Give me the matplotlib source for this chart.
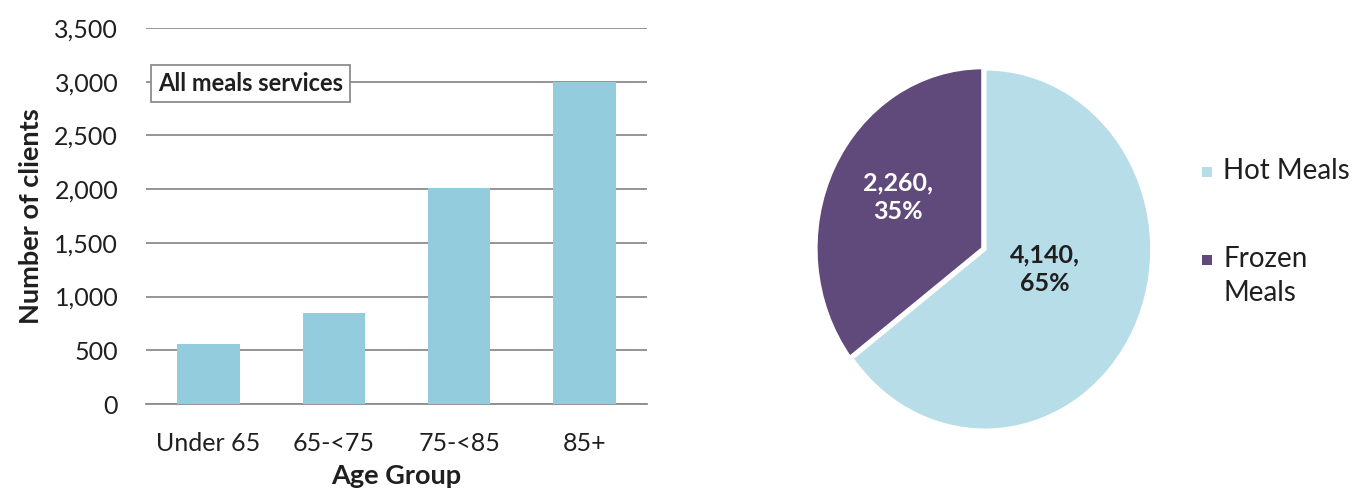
import matplotlib
matplotlib.use("Agg")
import matplotlib.pyplot as plt
from matplotlib.patches import Rectangle
import numpy as np

plt.rcParams['font.family'] = ['Lato', 'DejaVu Sans']

age_groups = ["Under 65", "65-<75", "75-<85", "85+"]
clients = [560, 850, 2010, 3000]

meal_types = ["Hot Meals", "Frozen\nMeals"]
meal_counts = [4140, 2260]

bar_color = "#93CDDD"
pie_colors = ["#B7DDE8", "#604A7B"]
txt = "#1f1f1f"

W, H = 1353, 491
fig = plt.figure(figsize=(W / 100, H / 100), dpi=100)

# ---- bar chart ----
ax = fig.add_axes([146 / W, (H - 404) / H, (647 - 146) / W, (404 - 28) / H])
x = np.arange(len(age_groups))
ax.bar(x, clients, width=0.5, color=bar_color, zorder=3)
ax.set_xlim(-0.5, len(age_groups) - 0.5)
ax.set_ylim(0, 3500)
ax.set_yticks(np.arange(0, 3501, 500))
ax.set_yticklabels([f"{v:,}" for v in range(0, 3501, 500)])
ax.set_xticks(x)
ax.set_xticklabels(age_groups)
ax.tick_params(axis='both', length=0, labelsize=18, colors=txt)
ax.tick_params(axis='y', pad=20)
ax.tick_params(axis='x', pad=20)
ax.yaxis.grid(True, color="#8c8c8c", linewidth=1.3, zorder=0)
for s in ["left", "right", "top"]:
    ax.spines[s].set_visible(False)
ax.spines["bottom"].set_color("#8c8c8c")
ax.spines["bottom"].set_linewidth(1.3)
ax.set_ylabel("Number of clients", fontsize=19.5, fontweight="bold", labelpad=8, color=txt)
ax.set_xlabel("Age Group", fontsize=19.5, fontweight="bold", labelpad=7, color=txt)
ax.text(0.024, 0.852, "All meals services", transform=ax.transAxes, fontsize=17,
        fontweight="bold", va="center", ha="left", zorder=5, color=txt,
        bbox=dict(boxstyle="square,pad=0.3", fc="white", ec="#8c8c8c", lw=1.3))

# ---- pie chart ----
pax = fig.add_axes([(985 - 170) / W, (H - 430) / H, 340 / W, 361 / H])
wedges, _ = pax.pie(meal_counts, colors=pie_colors, startangle=90, counterclock=False,
                    explode=[0, 0.015], wedgeprops=dict(edgecolor="white", linewidth=2.2))
pax.set_aspect('auto')
pax.set_xlim(-1.02, 1.02)
pax.set_ylim(-1.0, 1.0)
total = sum(meal_counts)
label_pos = [(0.36, -0.11), (-0.52, 0.29)]
label_col = [txt, "white"]
for (lx, ly), v, c in zip(label_pos, meal_counts, label_col):
    pax.text(lx, ly, f"{v:,},\n{round(100 * v / total)}%", ha="center", va="center",
             fontsize=18, fontweight="bold", color=c, linespacing=1.3)

# ---- legend ----
leg_y = [172, 260]
for lab, col, yy in zip(meal_types, pie_colors, leg_y):
    fig.patches.append(Rectangle(((1202) / W, (H - yy - 5) / H), 10 / W, 10 / H,
                                 transform=fig.transFigure, facecolor=col, edgecolor="none"))
    fig.text(1223 / W, (H - yy + 14) / H, lab, fontsize=20, color=txt, ha="left",
             va="top", linespacing=1.4)

fig.savefig("out.png", dpi=100)
